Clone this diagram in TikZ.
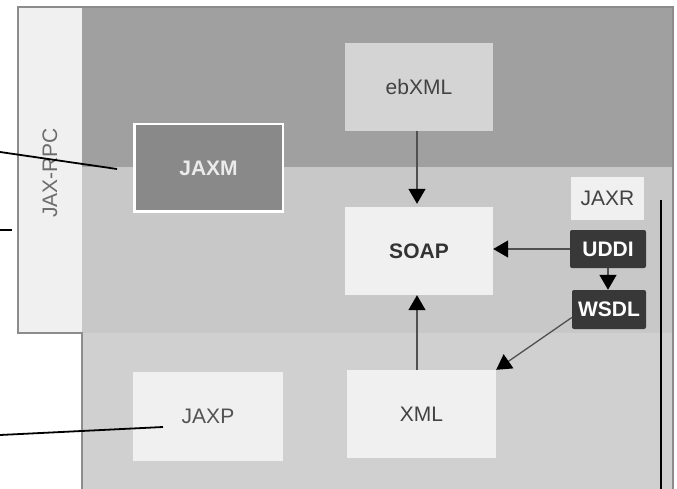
\documentclass[tikz,border=0pt]{standalone}
\usepackage{fontspec}
\setmainfont{Liberation Sans}
\usetikzlibrary{arrows.meta}
\definecolor{topgray}{HTML}{A0A0A0}
\definecolor{midgray}{HTML}{C8C8C8}
\definecolor{botgray}{HTML}{D0D0D0}
\definecolor{palebox}{HTML}{F0F0F0}
\definecolor{ebbox}{HTML}{D4D4D4}
\definecolor{jaxmbox}{HTML}{898989}
\definecolor{darkbox}{HTML}{383838}
\definecolor{framegray}{HTML}{8C8C8C}
\definecolor{linegray}{HTML}{505050}
\definecolor{txtdark}{HTML}{424242}
\begin{document}
\begin{tikzpicture}[x=1pt,y=-1pt,
  lbl/.style={font=\fontsize{21}{24}\selectfont},
  bigbox/.style={lbl, inner sep=0pt, minimum width=148pt, minimum height=88pt, text=txtdark},
  smallbox/.style={lbl, inner sep=0pt, font=\fontsize{21}{24}\selectfont\bfseries, text=white, fill=darkbox, rounded corners=2pt},
  flow/.style={draw=linegray, line width=1.3pt, -{Triangle[length=15pt,width=17pt,color=black]}},
  leader/.style={black, line width=1.8pt}]
\useasboundingbox (0,0) rectangle (677,489);
% regions
\fill[topgray] (82,7) rectangle (673,167);
\fill[midgray] (82,167) rectangle (673,333);
\fill[botgray] (82,333) rectangle (673,489);
\fill[palebox] (18,7) rectangle (82,333);
\draw[framegray, line width=1.5pt] (82,489) -- (82,333) -- (18,333) -- (18,7) -- (673,7) -- (673,489);
\node[lbl, rotate=90, text=gray!85!black] (jaxrpc) at (50,173) {JAX-RPC};
% nodes
\node[bigbox, fill=ebbox] (ebxml) at (419,87) {ebXML};
\node[bigbox, fill=palebox, font=\fontsize{21}{24}\selectfont\bfseries, text=black!80] (soap) at (419,251) {SOAP};
\node[bigbox, fill=palebox, minimum width=149pt] (xml) at (421.5,414) {XML};
\node[bigbox, fill=palebox, minimum width=150pt, minimum height=89pt, text=black!68] (jaxp) at (208,416.5) {JAXP};
\node[lbl, inner sep=0pt, minimum width=148.5pt, minimum height=87.5pt, fill=jaxmbox, draw=white, line width=2.5pt,
      font=\fontsize{21}{24}\selectfont\bfseries, text=black!8] (jaxm) at (208.5,168) {JAXM};
\node[lbl, inner sep=0pt, minimum width=73pt, minimum height=43pt, fill=palebox, text=txtdark] (jaxr) at (607.5,198.5) {JAXR};
\node[smallbox, minimum width=76pt, minimum height=38pt] (uddi) at (608,249) {UDDI};
\node[smallbox, minimum width=74pt, minimum height=39pt] (wsdl) at (609,309.5) {WSDL};
% connectors
\draw[flow, shorten >=3pt] ([xshift=-2pt]ebxml.south) -- ([xshift=-2pt]soap.north);
\draw[flow] (uddi.west) -- (uddi.west -| soap.east);
\draw[flow] (uddi.south) -- (wsdl.north -| uddi.south);
\draw[flow] ([yshift=-8pt]wsdl.west) -- (xml.north east);
\draw[flow] ([xshift=-2pt]soap.south |- xml.north) -- ([xshift=-2pt]soap.south);
% leader lines
\coordinate (l1a) at (0,152);
\coordinate (l1b) at (117,169);
\coordinate (l2a) at (0,230);
\coordinate (l2b) at (12,230);
\coordinate (l3a) at (0,435);
\coordinate (l3b) at (163,427);
\coordinate (l4a) at (661,200);
\coordinate (l4b) at (661,489);
\draw[leader] (l1a) -- (l1b);
\draw[leader] (l2a) -- (l2b);
\draw[leader] (l3a) -- (l3b);
\draw[leader] (l4a) -- (l4b);
\end{tikzpicture}
\end{document}
